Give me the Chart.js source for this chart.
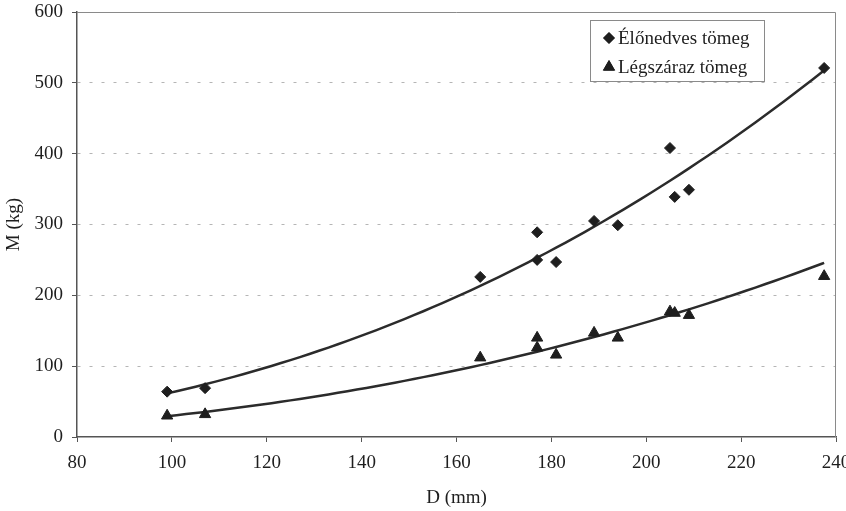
<!DOCTYPE html>
<html>
<head>
<meta charset="utf-8">
<script src="https://cdn.jsdelivr.net/npm/chart.js@4.4.1/dist/chart.umd.min.js"></script>
<style>
  html, body { margin: 0; padding: 0; background: #ffffff; }
  #wrap { width: 846px; height: 511px; }
</style>
</head>
<body>
<div id="wrap"><canvas id="massChart" width="846" height="511"></canvas></div>
<script>
// mért adatok: törzsátmérő (mm) és tömeg (kg)
const diameters = [99, 107, 165, 177, 177, 181, 189, 194, 205, 206, 209, 237.5];
const freshMass = [64, 69, 226, 289, 250, 247, 305, 299, 408, 339, 349, 521];
const dryMass   = [30, 32, 112, 140, 126, 116, 147, 140, 177, 175, 172, 227];
const seriesNames = ["Élőnedves tömeg", "Légszáraz tömeg"];
const xTicks = [80, 100, 120, 140, 160, 180, 200, 220, 240];
const yTicks = [0, 100, 200, 300, 400, 500, 600];
const xTitle = "D (mm)";
const yTitle = "M (kg)";

const FONT = "'Liberation Serif', 'Times New Roman', serif";
const INK = "#1e1e1e";

// hatványfüggvény illesztés (y = a * x^b), mint az Excel trendvonal
function powerFit(xs, ys) {
    let n = xs.length, sx = 0, sy = 0, sxy = 0, sxx = 0;
    for (let i = 0; i < n; i++) {
        const lx = Math.log(xs[i]), ly = Math.log(ys[i]);
        sx += lx; sy += ly; sxy += lx * ly; sxx += lx * lx;
    }
    const b = (n * sxy - sx * sy) / (n * sxx - sx * sx);
    const a = Math.exp((sy - b * sx) / n);
    return x => a * Math.pow(x, b);
}

function trendPoints(xs, ys) {
    const f = powerFit(xs, ys);
    const lo = Math.min(...xs), hi = Math.max(...xs);
    const pts = [];
    for (let x = lo; x < hi; x += 2) pts.push({ x: x, y: f(x) });
    pts.push({ x: hi, y: f(hi) });
    return pts;
}

const toPoints = (xs, ys) => xs.map((x, i) => ({ x: x, y: ys[i] }));

// keret + jelmagyarázat a rajzterületen belül
const framePlugin = {
    id: "frame",
    beforeDatasetsDraw(chart) {
        const { ctx, chartArea: a } = chart;
        ctx.save();
        ctx.strokeStyle = "#8a8a8a";
        ctx.lineWidth = 1;
        ctx.beginPath();
        ctx.moveTo(a.left, a.top + 0.5);
        ctx.lineTo(a.right - 0.5, a.top + 0.5);
        ctx.lineTo(a.right - 0.5, a.bottom);
        ctx.stroke();
        ctx.restore();
    },
    afterDraw(chart) {
        const ctx = chart.ctx;
        const box = { x: 590.5, y: 20.5, w: 174, h: 61 };
        ctx.save();
        ctx.fillStyle = "#ffffff";
        ctx.fillRect(box.x, box.y, box.w, box.h);
        ctx.strokeStyle = "#8a8a8a";
        ctx.lineWidth = 1;
        ctx.strokeRect(box.x, box.y, box.w, box.h);
        ctx.font = "19px " + FONT;
        ctx.textBaseline = "middle";
        chart.data.datasets.filter(d => d.showInLegend).forEach((d, i) => {
            const cy = 38 + i * 29;
            ctx.fillStyle = INK;
            ctx.strokeStyle = INK;
            Chart.helpers.drawPoint(ctx, { pointStyle: d.pointStyle, radius: d.pointRadius, borderWidth: 1 }, 609, cy);
            ctx.fill();
            ctx.fillText(d.label, 618, cy + 1);
        });
        ctx.restore();
    }
};

new Chart(document.getElementById("massChart"), {
    type: "scatter",
    data: {
        datasets: [
            {
                label: seriesNames[0],
                data: toPoints(diameters, freshMass),
                pointStyle: "rectRot",
                pointRadius: 5.5,
                backgroundColor: INK,
                borderColor: INK,
                showInLegend: true,
                order: 1
            },
            {
                label: seriesNames[1],
                data: toPoints(diameters, dryMass),
                pointStyle: "triangle",
                pointRadius: 6.5,
                backgroundColor: INK,
                borderColor: INK,
                showInLegend: true,
                order: 1
            },
            {
                label: "trend1",
                type: "line",
                data: trendPoints(diameters, freshMass),
                borderColor: "#2b2b2b",
                borderWidth: 2.5,
                pointRadius: 0,
                tension: 0,
                fill: false,
                order: 2
            },
            {
                label: "trend2",
                type: "line",
                data: trendPoints(diameters, dryMass),
                borderColor: "#2b2b2b",
                borderWidth: 2.5,
                pointRadius: 0,
                tension: 0,
                fill: false,
                order: 2
            }
        ]
    },
    options: {
        responsive: false,
        animation: false,
        events: [],
        layout: { padding: { top: 12, right: 10, bottom: 0, left: 0 } },
        plugins: {
            legend: { display: false },
            tooltip: { enabled: false }
        },
        scales: {
            x: {
                type: "linear",
                min: xTicks[0],
                max: xTicks[xTicks.length - 1],
                afterBuildTicks: s => { s.ticks = xTicks.map(v => ({ value: v })); },
                afterFit: s => { s.height = 74; s.paddingRight = 0; s.paddingLeft = 0; },
                grid: { display: true, drawOnChartArea: false, drawTicks: true, tickLength: 5, color: "#555" },
                border: { display: true, color: "#555", width: 1.5 },
                ticks: { color: INK, font: { family: FONT, size: 19 }, padding: 10, maxRotation: 0 },
                title: { display: true, text: xTitle, color: INK, font: { family: FONT, size: 19 }, padding: { top: 2, bottom: 2 } }
            },
            y: {
                type: "linear",
                min: yTicks[0],
                max: yTicks[yTicks.length - 1],
                afterBuildTicks: s => { s.ticks = yTicks.map(v => ({ value: v })); },
                afterFit: s => { s.width = 77; s.paddingTop = 0; s.paddingBottom = 0; },
                grid: {
                    color: ctx => (ctx.tick && (ctx.tick.value === 0 || ctx.tick.value === 600)) ? "rgba(0,0,0,0)" : "#b5b5b5",
                    tickColor: "#555",
                    tickLength: 5,
                    lineWidth: 1
                },
                border: { display: true, color: "#555", width: 1.5, dash: [3, 9] },
                ticks: { color: INK, font: { family: FONT, size: 19 }, padding: 9 },
                title: { display: true, text: yTitle, color: INK, font: { family: FONT, size: 19 }, padding: { top: 3, bottom: 4 } }
            }
        }
    },
    plugins: [framePlugin]
});
</script>
</body>
</html>
